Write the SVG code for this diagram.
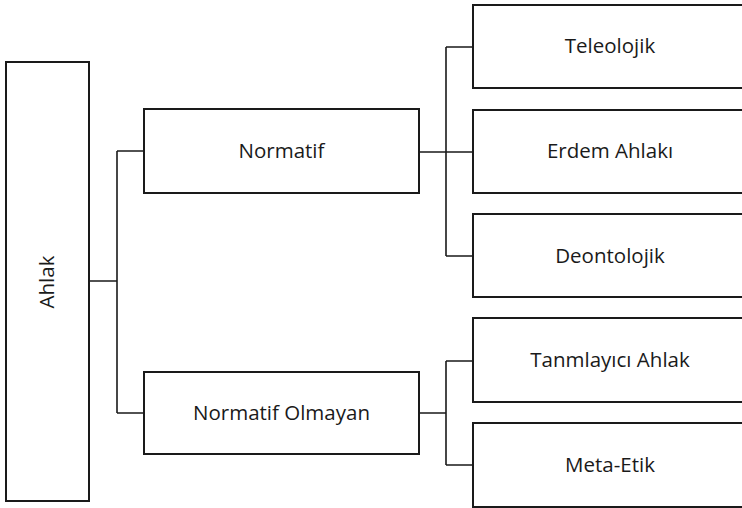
<svg xmlns="http://www.w3.org/2000/svg" width="742" height="508" viewBox="0 0 742 508">
  <style>
    .box { fill: #ffffff; stroke: #1a1a1a; stroke-width: 2; }
    .lbl { font-family: "Open Sans", "Liberation Sans", sans-serif; font-size: 20.5px; fill: #1a1a1a; text-anchor: middle; }
    .conn { fill: none; stroke: #1a1a1a; stroke-width: 1.6; }
  </style>
  <rect x="0" y="0" width="742" height="508" fill="#ffffff"/>
  <g id="connectors">
    <path class="conn" d="M89,281 H117 M117,151 V413 M117,151 H144 M117,413 H144"/>
    <path class="conn" d="M419,152 H446 M446,47 V256 M446,47 H473 M446,152 H473 M446,256 H473"/>
    <path class="conn" d="M419,413 H446 M446,361 V465 M446,361 H473 M446,465 H473"/>
  </g>
  <g id="ahlak">
    <rect class="box" x="6" y="62" width="83" height="439"/>
    <text class="lbl" transform="translate(54,282) rotate(-90)">Ahlak</text>
  </g>
  <g id="normatif">
    <rect class="box" x="144" y="109" width="275" height="84"/>
    <text class="lbl" x="281.5" y="158">Normatif</text>
  </g>
  <g id="normatif-olmayan">
    <rect class="box" x="144" y="372" width="275" height="82"/>
    <text class="lbl" x="281.5" y="420">Normatif Olmayan</text>
  </g>
  <g id="teleolojik">
    <rect class="box" x="473" y="5" width="276" height="83"/>
    <text class="lbl" x="610" y="53">Teleolojik</text>
  </g>
  <g id="erdem-ahlaki">
    <rect class="box" x="473" y="110" width="276" height="83"/>
    <text class="lbl" x="610" y="158">Erdem Ahlakı</text>
  </g>
  <g id="deontolojik">
    <rect class="box" x="473" y="214" width="276" height="83"/>
    <text class="lbl" x="610" y="263">Deontolojik</text>
  </g>
  <g id="tanimlayici-ahlak">
    <rect class="box" x="473" y="318" width="276" height="84"/>
    <text class="lbl" x="610" y="367">Tanmlayıcı Ahlak</text>
  </g>
  <g id="meta-etik">
    <rect class="box" x="473" y="423" width="276" height="84"/>
    <text class="lbl" x="610" y="472">Meta-Etik</text>
  </g>
</svg>
